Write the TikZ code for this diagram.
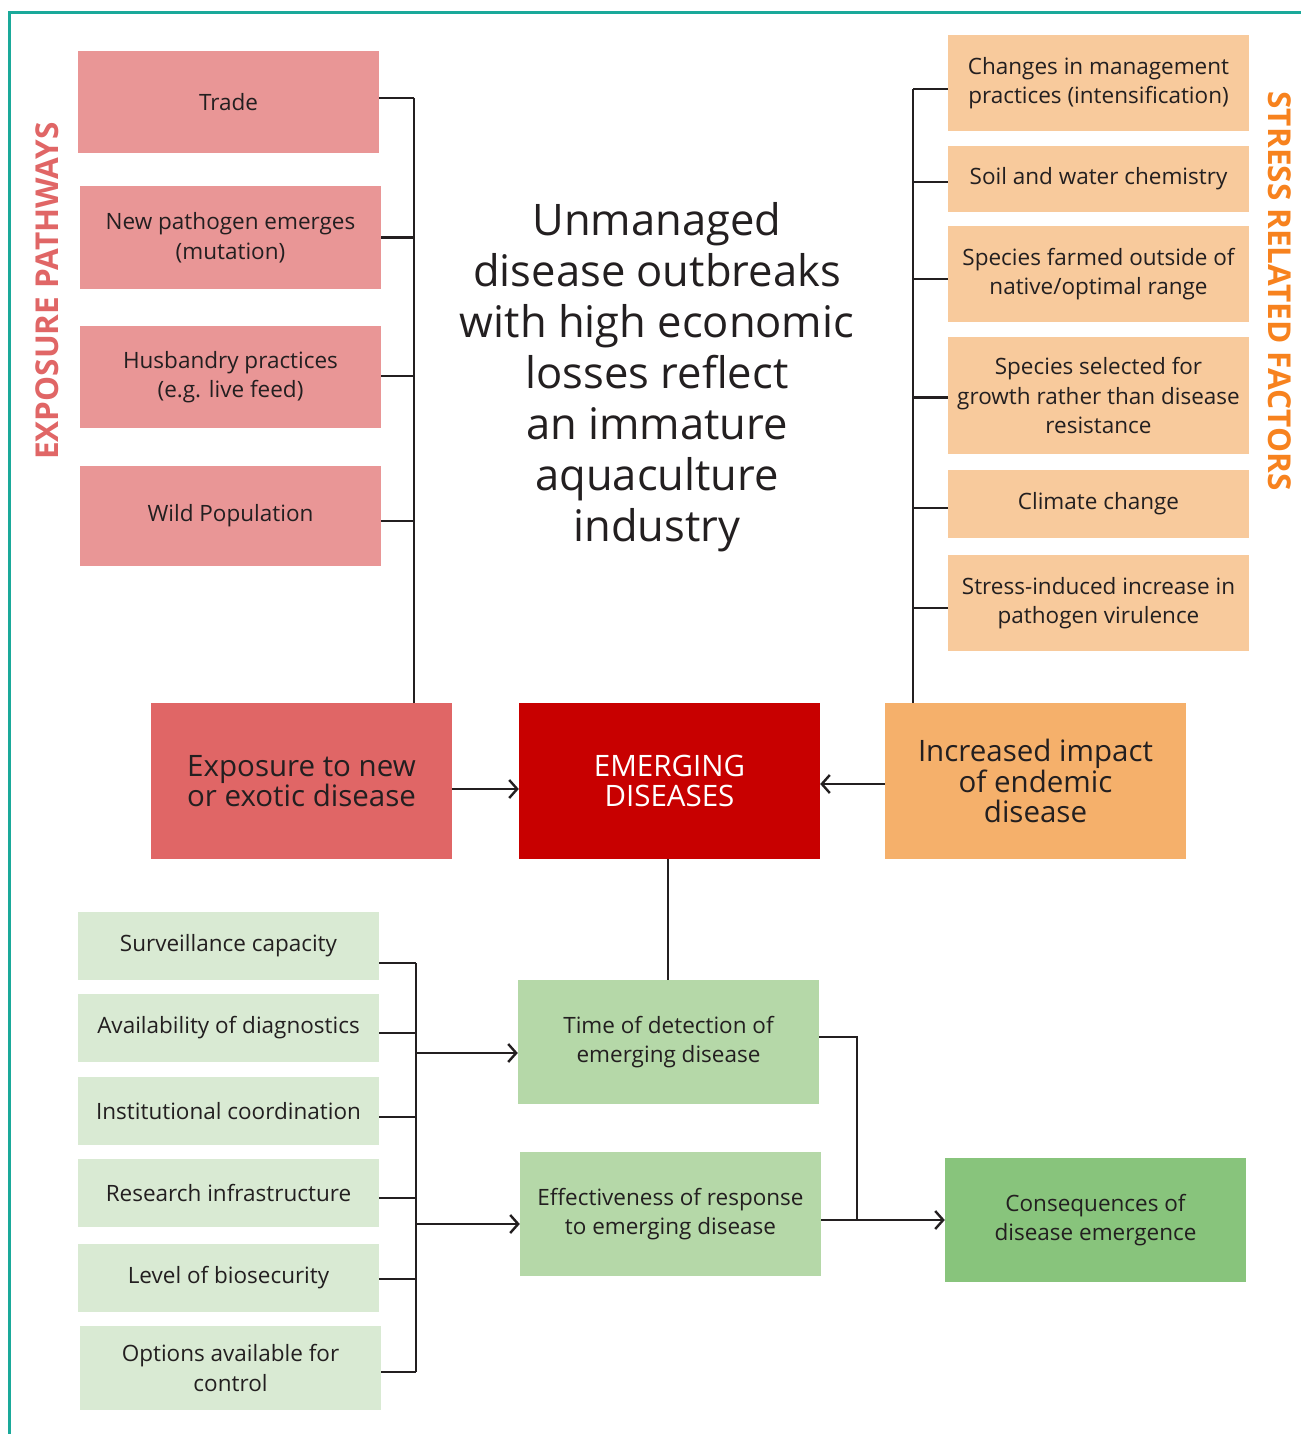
\documentclass[tikz,border=0pt]{standalone}
\usepackage{fontspec}
\setmainfont{Open Sans}
\usetikzlibrary{arrows.meta,calc}
\definecolor{pinkLight}{HTML}{E99696}
\definecolor{pinkDark}{HTML}{E06666}
\definecolor{redMain}{HTML}{C80000}
\definecolor{orangeLight}{HTML}{F8CA9C}
\definecolor{orangeMid}{HTML}{F5B06B}
\definecolor{orangeLabel}{HTML}{F7821E}
\definecolor{greenLight}{HTML}{D9EAD3}
\definecolor{greenMid}{HTML}{B5D8A8}
\definecolor{greenDark}{HTML}{88C47C}
\definecolor{tealLine}{HTML}{1AA99A}
\definecolor{ink}{HTML}{231F20}
\begin{document}
\begin{tikzpicture}[x=1pt,y=-1pt,
  box/.style={rectangle,inner sep=0pt,align=center,text=ink,
    minimum width=301pt,font=\fontsize{22.5}{29.5}\selectfont},
  bigbox/.style={box,minimum height=156pt,font=\fontsize{29.5}{29.5}\selectfont},
  wire/.style={draw=ink,line width=2.4pt},
  arr/.style={wire,-{Straight Barb[length=8pt,width=18pt,line width=2.4pt]}},
  sidelabel/.style={font=\fontsize{31.5}{31.5}\selectfont\bfseries}]
\useasboundingbox (0,0) rectangle (1301,1434);
% frame
\draw[tealLine,line width=3pt] (9,1434) -- (9,13) -- (1301,13);

% exposure pathways column
\node[box,fill=pinkLight,minimum height=102pt] (trade) at (228.5,102) {Trade};
\node[box,fill=pinkLight,minimum height=103pt] (newpath) at (230.5,237.5) {New pathogen emerges\\(mutation)};
\node[box,fill=pinkLight,minimum height=102pt] (husb) at (230.5,377) {Husbandry practices\\(e.g. live feed)};
\node[box,fill=pinkLight,minimum height=100pt] (wild) at (230.5,516) {Wild Population};
\node[sidelabel,text=pinkDark,rotate=90] (explabel) at (47,291) {EXPOSURE PATHWAYS};

% stress related factors column
\node[box,fill=orangeLight,minimum height=96pt] (mgmt) at (1098.5,83) {Changes in management\\practices (intensification)};
\node[box,fill=orangeLight,minimum height=66pt] (soil) at (1098.5,179) {Soil and water chemistry};
\node[box,fill=orangeLight,minimum height=96pt] (range) at (1098.5,274) {Species farmed outside of\\native/optimal range};
\node[box,fill=orangeLight,minimum height=117pt] (growth) at (1098.5,395.5) {Species selected for\\growth rather than disease\\resistance};
\node[box,fill=orangeLight,minimum height=68pt] (climate) at (1098.5,504) {Climate change};
\node[box,fill=orangeLight,minimum height=96pt] (viru) at (1098.5,603) {Stress-induced increase in\\pathogen virulence};
\node[sidelabel,text=orangeLabel,rotate=-90] (stresslabel) at (1280,291) {STRESS RELATED FACTORS};

% central statement
\node[align=center,text=ink,font=\fontsize{43.5}{51}\selectfont] (title) at (657,377)
  {Unmanaged\\disease outbreaks\\with high economic\\losses reflect\\an immature\\aquaculture\\industry};

% main row
\node[bigbox,fill=pinkDark] (exposure) at (301.5,781) {Exposure to new\\or exotic disease};
\node[bigbox,fill=redMain,text=white] (emerging) at (669.5,781) {EMERGING\\DISEASES};
\node[bigbox,fill=orangeMid] (endemic) at (1035.5,781) {Increased impact\\of endemic\\disease};

% capacity factors column
\node[box,fill=greenLight,minimum height=68pt] (surv) at (228.5,946) {Surveillance capacity};
\node[box,fill=greenLight,minimum height=68pt] (diag) at (228.5,1028) {Availability of diagnostics};
\node[box,fill=greenLight,minimum height=68pt] (inst) at (228.5,1111) {Institutional coordination};
\node[box,fill=greenLight,minimum height=68pt] (research) at (228.5,1193) {Research infrastructure};
\node[box,fill=greenLight,minimum height=68pt] (biosec) at (228.5,1278) {Level of biosecurity};
\node[box,fill=greenLight,minimum height=84pt] (options) at (230.5,1368) {Options available for\\control};

% outcomes
\node[box,fill=greenMid,minimum height=124pt] (detect) at (668.5,1042) {Time of detection of\\emerging disease};
\node[box,fill=greenMid,minimum height=124pt] (response) at (670.5,1214) {Effectiveness of response\\to emerging disease};
\node[box,fill=greenDark,minimum height=124pt] (conseq) at (1095.5,1220) {Consequences of\\disease emergence};

% exposure bus
\coordinate (ebus) at (414,98);
\draw[wire] (ebus) -- (ebus |- exposure.north);
\foreach \n/\dy in {trade/-4,newpath/0,husb/-1,wild/5}
  \draw[wire] ([yshift=-\dy pt]\n.east) -- ($(ebus |- \n.east)+(0,\dy)$);

% stress bus
\coordinate (sbus) at (913,89);
\draw[wire] (sbus) -- (sbus |- endemic.north);
\foreach \n/\dy in {mgmt/6,soil/3,range/5,growth/2,climate/4,viru/5}
  \draw[wire] ([yshift=-\dy pt]\n.west) -- ($(sbus |- \n.west)+(0,\dy)$);

% main row arrows
\draw[arr] ([yshift=-8pt]exposure.east) -- ([yshift=-8pt]emerging.west);
\draw[arr] ([yshift=-3pt]endemic.west) -- ([yshift=-3pt]emerging.east);
\draw[wire] ([xshift=-1.5pt]emerging.south) -- ([xshift=-0.5pt]detect.north);

% capacity bus
\coordinate (cbus) at (416,963);
\coordinate (cbusend) at (416,1372);
\draw[wire] (cbus) -- (cbusend);
\foreach \n/\dy in {surv/17,diag/5,inst/6,research/5,biosec/1,options/4}
  \draw[wire] ([yshift=-\dy pt]\n.east) -- ($(cbus |- \n.east)+(0,\dy)$);
\draw[arr] ($(cbus |- detect.west)+(0,11)$) -- ([yshift=-11pt]detect.west);
\draw[arr] ($(cbus |- response.west)+(0,10)$) -- ([yshift=-10pt]response.west);

% outcomes to consequences
\coordinate (obus) at (857,1037);
\draw[wire] ([yshift=5pt]detect.east) -- (obus) -- (obus |- conseq.west);
\draw[arr] ([yshift=-6pt]response.east) -- (conseq.west);
\end{tikzpicture}
\end{document}
